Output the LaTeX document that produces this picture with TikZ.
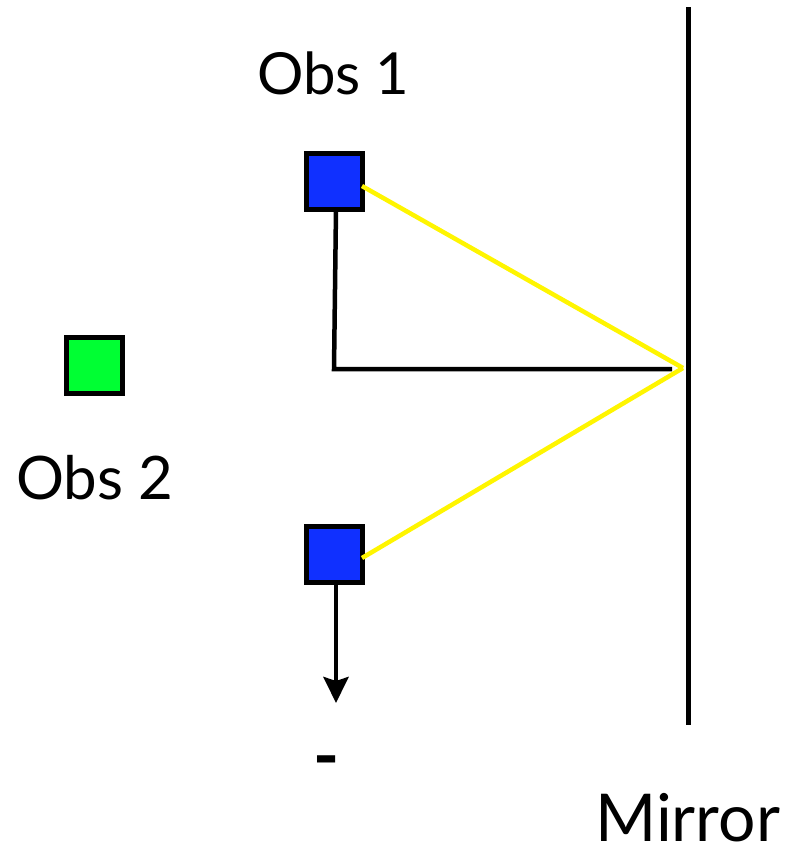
\documentclass[tikz,border=0pt]{standalone}
\usepackage{fontspec}
\setmainfont{Lato}
\usetikzlibrary{arrows.meta}
\definecolor{obsblue}{RGB}{16,48,255}
\definecolor{obsgreen}{RGB}{0,255,51}
\definecolor{beam}{RGB}{255,245,0}
\begin{document}
\begin{tikzpicture}[x=1pt,y=-1pt,
  obsbox/.style={draw=black,line width=5pt,minimum size=56pt,inner sep=0pt,outer sep=0pt},
  beamline/.style={draw=beam,line width=4.5pt},
  blackline/.style={draw=black,line width=4.5pt},
  lbl/.style={inner sep=0pt}]
\useasboundingbox (0,0) rectangle (799,849);
\node[obsbox,fill=obsblue] (o1) at (334,181) {};
\node[obsbox,fill=obsblue] (o3) at (334,554) {};
\node[obsbox,fill=obsgreen] (o2) at (94,365) {};
\coordinate (mtop) at (688,7);
\coordinate (mbot) at (688,725);
\coordinate (apex) at (683,368);
\coordinate (corner) at (334,369);
\coordinate (hend) at (672,369);
\coordinate (arrtip) at (336,703);
\draw[line width=5pt] (mtop) -- (mbot);
\draw[blackline] (o1.south) ++(2,0) coordinate (o1s) -- (corner) -- (hend);
\draw[beamline] (o1.east) ++(0,5) -- (apex);
\draw[beamline] (apex) -- ([yshift=-4pt]o3.east);
\draw[blackline,-{Stealth[length=26pt,width=25pt,inset=4pt]}] ([xshift=2pt]o3.south) -- (arrtip);
\node[lbl,anchor=base west,font=\fontsize{58}{64}\selectfont] (t1) at (257,94) {Obs 1};
\node[lbl,anchor=base west,font=\fontsize{60}{66}\selectfont] (t2) at (16,499) {Obs 2};
\node[lbl,anchor=base west,font=\fontsize{66}{72}\selectfont] (t3) at (595,841) {Mirror};
\node[lbl,font=\fontsize{70}{76}\bfseries\selectfont] (t4) at (327,768) {-};
\end{tikzpicture}
\end{document}
